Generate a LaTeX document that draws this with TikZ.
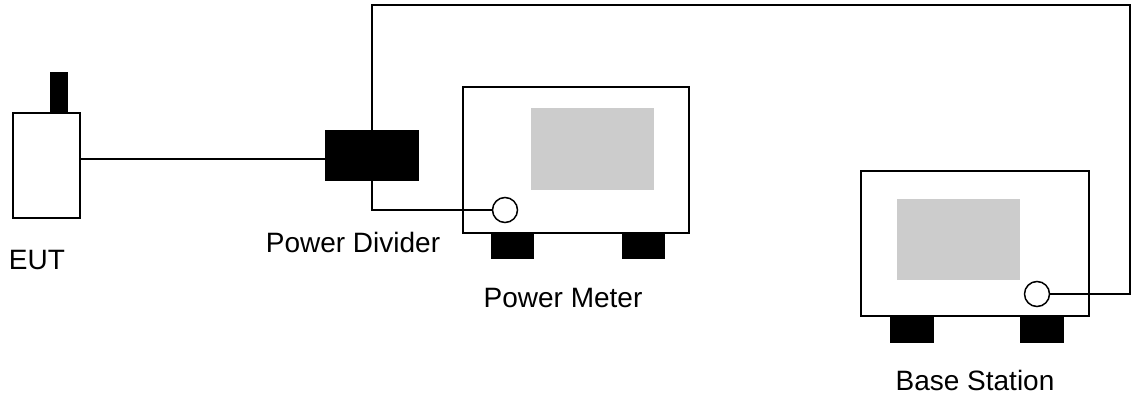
\documentclass[tikz,border=0pt]{standalone}
\usepackage{fontspec}
\setmainfont{Liberation Sans}
\usetikzlibrary{positioning,calc}
\definecolor{mygray}{RGB}{204,204,204}

\begin{document}
\begin{tikzpicture}[x=1pt,y=-1pt,
        every node/.style={inner sep=0pt,outer sep=0pt},
        box/.style={draw,line width=1.5pt,fill=white},
        blk/.style={fill=black},
        scr/.style={fill=mygray},
        port/.style={draw,circle,line width=1.5pt,fill=white,minimum size=25pt},
        lbl/.style={font=\fontsize{28}{34}\selectfont},
        cable/.style={line width=1.5pt}
      ]
      \useasboundingbox (0,0) rectangle (1131,401);

      % the EUT
      \node[blk,minimum width=18pt,minimum height=41pt] (ant) at (59,92.5) {};
      \node[box,minimum width=67pt,minimum height=105pt] (eut) at (46.5,165.5) {};
      \node[lbl] (eutlabel) at (37,260) {EUT};

      % the power divider
      \node[blk,minimum width=94pt,minimum height=51pt] (div) at (372,155.5) {};
      \node[lbl] (divlabel) at (353,242) {Power Divider};

      % the power meter
      \begin{scope}
        \node[box,minimum width=226pt,minimum height=146pt] (pm) at (576,160) {};
        \node[scr,minimum width=123pt,minimum height=82pt] (pmscreen) at (592.5,149) {};
        \foreach \i/\x in {1/512.5,2/643.5}
        \node[blk,minimum width=43pt,minimum height=26pt] (pmfoot\i) at (\x,246) {};
        \node[port] (pmport) at (505,210) {};
        \node[lbl] (pmlabel) at (563,298) {Power Meter};
      \end{scope}

      % the base station
      \begin{scope}
        \node[box,minimum width=228pt,minimum height=145pt] (bs) at (975,243.5) {};
        \node[scr,minimum width=123pt,minimum height=81pt] (bsscreen) at (958.5,239.5) {};
        \foreach \i/\x in {1/912,2/1042}
        \node[blk,minimum width=44pt,minimum height=27pt] (bsfoot\i) at (\x,329.5) {};
        \node[port] (bsport) at (1037,294) {};
        \node[lbl] (bslabel) at (975,380) {Base Station};
      \end{scope}

      % the cables
      \coordinate (top) at (1130,5);
      \draw[cable] (eut.east |- 0,159) -- (div.west |- 0,159);
      \draw[cable] (div.south) |- (pmport.west);
      \draw[cable] (div.north) |- (top) |- (bsport.east);
\end{tikzpicture}
\end{document}
